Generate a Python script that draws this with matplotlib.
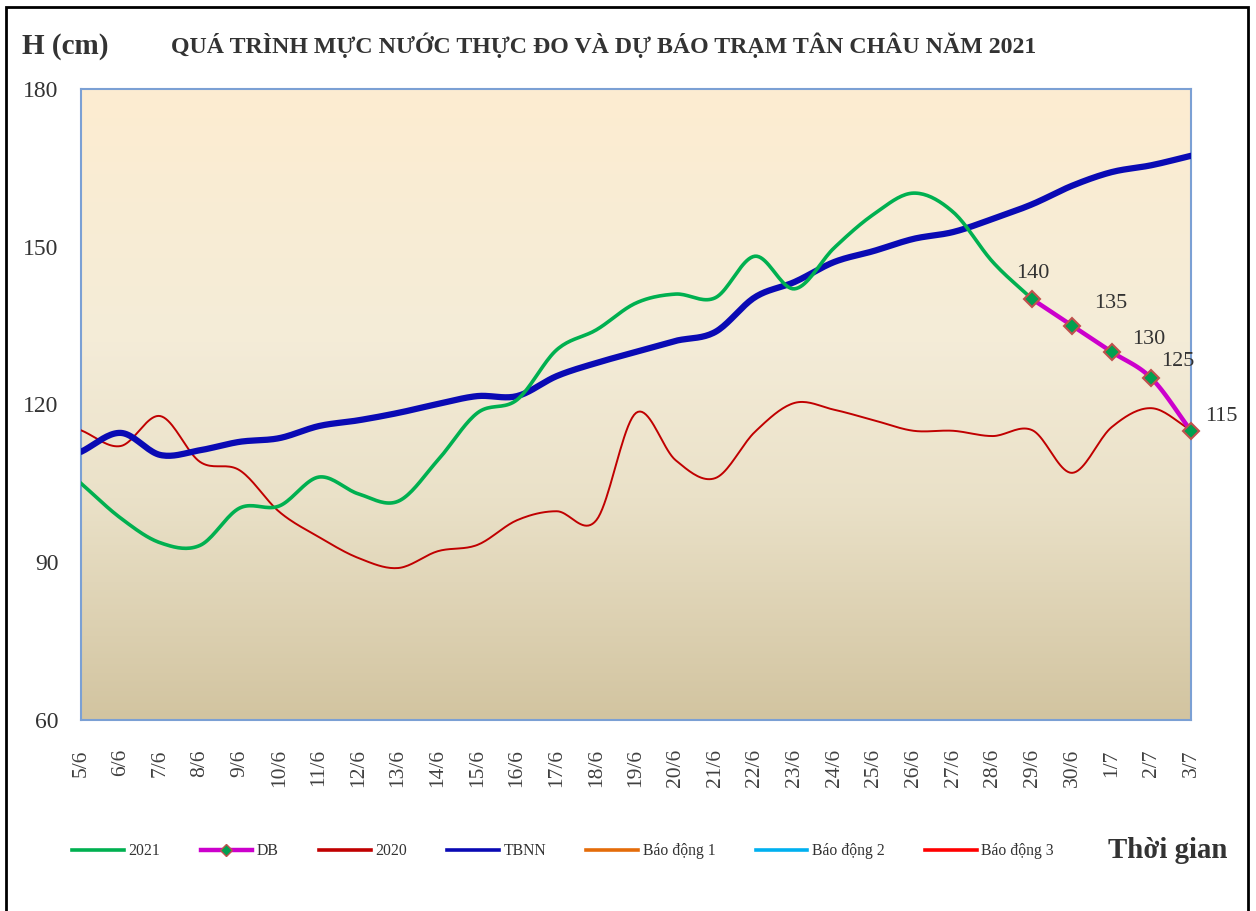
import numpy as np
import matplotlib
matplotlib.use("Agg")
import matplotlib.pyplot as plt
from matplotlib.colors import LinearSegmentedColormap
from matplotlib.lines import Line2D
from matplotlib.patches import Rectangle

# ---------------- data ----------------
dates = ["5/6", "6/6", "7/6", "8/6", "9/6", "10/6", "11/6", "12/6", "13/6", "14/6",
         "15/6", "16/6", "17/6", "18/6", "19/6", "20/6", "21/6", "22/6", "23/6", "24/6",
         "25/6", "26/6", "27/6", "28/6", "29/6", "30/6", "1/7", "2/7", "3/7"]

h2021 = [105.0, 98.4, 93.7, 93.2, 100.3, 100.7, 106.2, 103.0, 101.6, 109.4,
         118.4, 120.9, 130.4, 134.2, 139.3, 141.0, 140.3, 148.2, 142.0, 149.8,
         156.2, 160.2, 156.6, 147.1, 140.0]

db_dates = ["29/6", "30/6", "1/7", "2/7", "3/7"]
db_values = [140, 135, 130, 125, 115]

h2020 = [115.1, 112.1, 117.8, 109.1, 107.5, 99.6, 94.8, 90.8, 88.9, 92.1,
         93.3, 98.0, 99.7, 98.0, 118.4, 109.4, 106.0, 114.8, 120.3, 119.0,
         117.0, 115.0, 115.0, 114.0, 115.1, 107.0, 115.7, 119.3, 115.1]

tbnn = [111.0, 114.6, 110.4, 111.3, 112.9, 113.6, 115.9, 117.0, 118.4, 120.1,
        121.6, 121.6, 125.4, 127.9, 130.0, 132.1, 133.8, 140.4, 143.3, 147.1,
        149.2, 151.5, 152.8, 155.3, 158.1, 161.6, 164.2, 165.5, 167.3]

y_ticks = [60, 90, 120, 150, 180]

title = "QUÁ TRÌNH MỰC NƯỚC THỰC ĐO VÀ DỰ BÁO TRẠM TÂN CHÂU NĂM 2021"
legend_labels = ["2021", "DB", "2020", "TBNN", "Báo động 1", "Báo động 2", "Báo động 3"]

# ---------------- helpers ----------------
def smooth(x, y, n=20):
    """Catmull-Rom spline through the given points (display smoothing only)."""
    x = np.asarray(x, float); y = np.asarray(y, float)
    if len(x) < 3:
        return x, y
    px = np.concatenate([[2 * x[0] - x[1]], x, [2 * x[-1] - x[-2]]])
    py = np.concatenate([[2 * y[0] - y[1]], y, [2 * y[-1] - y[-2]]])
    xs, ys = [], []
    t = np.linspace(0, 1, n, endpoint=False)
    for i in range(1, len(px) - 2):
        p0, p1, p2, p3 = (np.array([px[j], py[j]]) for j in (i - 1, i, i + 1, i + 2))
        tt = t[:, None]
        pts = 0.5 * ((2 * p1) + (-p0 + p2) * tt + (2 * p0 - 5 * p1 + 4 * p2 - p3) * tt ** 2
                     + (-p0 + 3 * p1 - 3 * p2 + p3) * tt ** 3)
        xs.append(pts[:, 0]); ys.append(pts[:, 1])
    xs.append([x[-1]]); ys.append([y[-1]])
    return np.concatenate(xs), np.concatenate(ys)

serif = ["Liberation Serif", "DejaVu Serif"]

# ---------------- figure ----------------
fig = plt.figure(figsize=(12.56, 9.11), dpi=100)
fig.patch.set_facecolor("white")
ax = fig.add_axes([81 / 1256, 1 - 720 / 911, (1191 - 81) / 1256, (720 - 89) / 911])

x_all = np.arange(len(dates))
ax.set_xlim(0, len(dates) - 1)
ax.set_ylim(y_ticks[0], y_ticks[-1])

# gradient background
cmap = LinearSegmentedColormap.from_list(
    "bg", [(0.0, "#D2C4A0"), (0.35, "#EAE1C8"), (0.6, "#F4ECD8"), (1.0, "#FDEDD1")])
grad = np.linspace(0, 1, 256)[:, None]
ax.imshow(grad, aspect="auto", cmap=cmap, origin="lower",
          extent=[0, len(dates) - 1, y_ticks[0], y_ticks[-1]], zorder=0)

# series
xs, ys = smooth(x_all, h2020)
ax.plot(xs, ys, color="#C00000", lw=1.4, zorder=3)

xs, ys = smooth(x_all, tbnn)
ax.plot(xs, ys, color="#0A0AB4", lw=4.5, zorder=4, solid_capstyle="round")

x21 = np.arange(len(h2021))
xs, ys = smooth(x21, h2021)
ax.plot(xs, ys, color="#00B050", lw=2.6, zorder=5)

x_db = np.array([dates.index(d) for d in db_dates])
xs, ys = smooth(x_db, db_values)
ax.plot(xs, ys, color="#CC00CC", lw=3.2, zorder=6)
ax.plot(x_db, db_values, ls="none", marker="D", ms=8, mfc="#00A050",
        mec="#C0504D", mew=1.5, zorder=7, clip_on=False)

label_offsets = [(0, 26), (39, 22), (37, 12), (26, 17), (30, 14)]
for xv, yv, (dx, dy) in zip(x_db, db_values, label_offsets):
    ax.annotate(f"{yv}", (xv, yv), xytext=(dx * 0.72, dy * 0.72), textcoords="offset points",
                ha="center", va="center", fontsize=16, family=serif, color="#333333",
                annotation_clip=False, zorder=8)

# axes styling
for side in ["left", "right", "top", "bottom"]:
    ax.spines[side].set_color("#7BA0D4")
    ax.spines[side].set_linewidth(1.5)
ax.set_yticks(y_ticks)
ax.set_yticklabels([str(v) for v in y_ticks], fontsize=17, family=serif, color="#333333")
ax.tick_params(axis="y", length=0, pad=16)
ax.set_xticks(x_all)
ax.set_xticklabels(dates, rotation=90, fontsize=15.5, family=serif, color="#404040")
ax.tick_params(axis="x", length=0, pad=21)

# texts
fig.text(22 / 1256, 1 - 47 / 911, "H (cm)", fontsize=21, fontweight="bold", family=serif,
         color="#333333", ha="left", va="center")
fig.text(604 / 1256, 1 - 45 / 911, title, fontsize=17.2, fontweight="bold", family=serif,
         color="#333333", ha="center", va="center")
fig.text(1228 / 1256, 1 - 851 / 911, "Thời gian", fontsize=20.8, fontweight="bold",
         family=serif, color="#333333", ha="right", va="center")

# legend
handles = [
    Line2D([], [], color="#00B050", lw=2.6),
    Line2D([], [], color="#CC00CC", lw=3.2, marker="D", ms=6, mfc="#00A050", mec="#C0504D"),
    Line2D([], [], color="#C00000", lw=2.6),
    Line2D([], [], color="#0A0AB4", lw=2.6),
    Line2D([], [], color="#E46C0A", lw=2.6),
    Line2D([], [], color="#00B0F0", lw=2.6),
    Line2D([], [], color="#FF0000", lw=2.6),
]
leg = fig.legend(handles, legend_labels, loc="center left",
                 bbox_to_anchor=(58 / 1256, 1 - 851 / 911), ncol=7, frameon=False,
                 prop={"family": serif, "size": 11.3}, handlelength=3.3,
                 handletextpad=0.3, columnspacing=2.55)
for t in leg.get_texts():
    t.set_color("#333333")

# outer border
fig.patches.append(Rectangle((6 / 1256, -0.02), (1248 - 6) / 1256, 1.02 - 7 / 911,
                             transform=fig.transFigure, fill=False, ec="black", lw=2))

fig.savefig("out.png", dpi=100)
